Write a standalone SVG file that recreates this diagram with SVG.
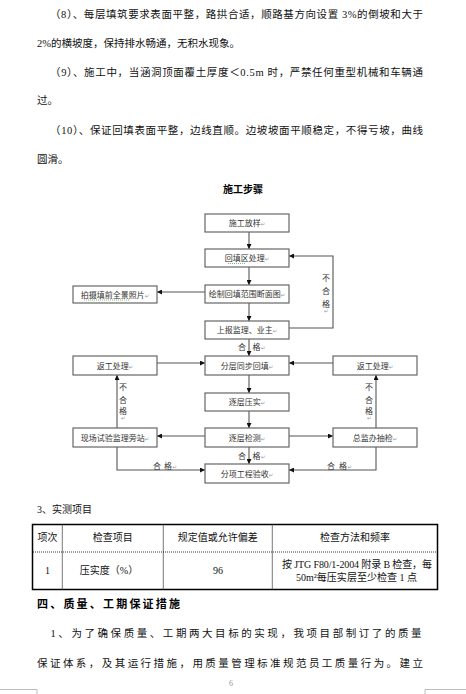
<svg xmlns="http://www.w3.org/2000/svg" width="466" height="694" viewBox="0 0 466 694">
<style>
.body{font-family:"Liberation Serif","Noto Sans CJK SC",serif;font-size:10.5px;fill:#111}
.bt{font-family:"Liberation Serif","Noto Sans CJK SC",serif;font-size:10px;fill:#111}
.bold{font-family:"Noto Sans CJK SC",sans-serif;font-weight:bold;fill:#000}
.box rect{fill:#fff;stroke:#666;stroke-width:1.2}
.box text,.lbl{font-family:"Noto Sans CJK SC","Liberation Sans",sans-serif;font-size:8px;fill:#333;text-anchor:middle}
.rm{font-family:"DejaVu Sans",sans-serif;font-size:5.5px;fill:#999}
.conn path{fill:none;stroke:#555;stroke-width:1.1}
.mid{text-anchor:middle}
</style>
<defs>
<marker id="ah" markerWidth="5" markerHeight="5" refX="5" refY="2.5" orient="auto" markerUnits="userSpaceOnUse">
<path d="M0,0 L5,2.5 L0,5 z" fill="#111"/>
</marker>
</defs>
<rect width="466" height="694" fill="#fff"/>

<g id="paragraphs">
<text class="body" x="50" y="18" textLength="373" lengthAdjust="spacing">（8）、每层填筑要求表面平整，路拱合适，顺路基方向设置 3%的倒坡和大于</text>
<text class="body" x="37" y="47">2%的横坡度，保持排水畅通，无积水现象。</text>
<text class="body" x="50" y="76" textLength="373" lengthAdjust="spacing">（9）、施工中，当涵洞顶面覆土厚度＜0.5m 时，严禁任何重型机械和车辆通</text>
<text class="body" x="37" y="104">过。</text>
<text class="body" x="50" y="134" textLength="373" lengthAdjust="spacing">（10）、保证回填表面平整，边线直顺。边坡坡面平顺稳定，不得亏坡，曲线</text>
<text class="body" x="37" y="163">圆滑。</text>
<text class="bold mid" x="243" y="193" font-size="10">施工步骤</text>
</g>

<g class="conn" id="connectors">
<path d="M249,232 V249" marker-end="url(#ah)"/>
<path d="M249,267 V285" marker-end="url(#ah)"/>
<path d="M249,303 V321" marker-end="url(#ah)"/>
<path d="M249,339 V356" marker-end="url(#ah)"/>
<path d="M249,375 V393" marker-end="url(#ah)"/>
<path d="M249,411 V428" marker-end="url(#ah)"/>
<path d="M249,447 V464" marker-end="url(#ah)"/>
<path d="M205,292 H157" marker-end="url(#ah)"/>
<path d="M289,328 H333 V256 H289" marker-end="url(#ah)"/>
<path d="M157,363 H205" marker-end="url(#ah)"/>
<path d="M333,363 H289" marker-end="url(#ah)"/>
<path d="M205,436 H157" marker-end="url(#ah)"/>
<path d="M289,436 H333" marker-end="url(#ah)"/>
<path d="M117,428 V375" marker-end="url(#ah)"/>
<path d="M376,428 V375" marker-end="url(#ah)"/>
<path d="M117,447 V470 H205" marker-end="url(#ah)"/>
<path d="M376,447 V470 H289" marker-end="url(#ah)"/>
</g>

<g id="labels">
<text class="lbl" x="326" y="281">不</text>
<text class="lbl" x="326" y="294">合</text>
<text class="lbl" x="326" y="307">格</text>
<text class="rm" x="324" y="313">↵</text>
<text class="lbl" x="242" y="350">合</text><text class="lbl" x="256.5" y="350">格</text><text class="rm" x="261" y="350">↵</text>
<text class="lbl" x="123" y="389.5">不</text>
<text class="lbl" x="123" y="402.5">合</text>
<text class="lbl" x="123" y="414">格</text>
<text class="rm" x="121" y="420">↵</text>
<text class="lbl" x="369" y="389.5">不</text>
<text class="lbl" x="369" y="402.5">合</text>
<text class="lbl" x="369" y="414">格</text>
<text class="rm" x="367" y="420">↵</text>
<text class="lbl" x="242" y="459">合</text><text class="lbl" x="256.5" y="459">格</text><text class="rm" x="261" y="459">↵</text>
<text class="lbl" x="157" y="469">合</text><text class="lbl" x="168" y="469">格</text><text class="rm" x="172.5" y="469">↵</text>
<text class="lbl" x="331" y="469">合</text><text class="lbl" x="343" y="469">格</text><text class="rm" x="347.5" y="469">↵</text>
</g>

<g class="box" id="n1"><rect x="205" y="214" width="84" height="18"/><text x="247" y="226">施工放样<tspan class="rm">↵</tspan></text></g>
<g class="box" id="n2"><rect x="205" y="249" width="84" height="18"/><text x="247" y="261">回填区处理<tspan class="rm">↵</tspan></text><path d="M228,263.5 H245" stroke="#6a6" stroke-width="0.8" stroke-dasharray="1,1"/></g>
<g class="box" id="n3"><rect x="205" y="285" width="84" height="18"/><text x="247" y="297">绘制回填范围断面图<tspan class="rm">↵</tspan></text></g>
<g class="box" id="n4"><rect x="73" y="286" width="84" height="17"/><text x="115" y="297.5">拍摄填前全景照片<tspan class="rm">↵</tspan></text><path d="M84,300 H130" stroke="#6a6" stroke-width="0.8" stroke-dasharray="1,1"/></g>
<g class="box" id="n5"><rect x="205" y="321" width="84" height="18"/><text x="247" y="333">上报监理、业主<tspan class="rm">↵</tspan></text></g>
<g class="box" id="n6"><rect x="205" y="356" width="84" height="19"/><text x="247" y="368.5">分层同步回填<tspan class="rm">↵</tspan></text></g>
<g class="box" id="n7"><rect x="73" y="356" width="84" height="19"/><text x="115" y="368.5">返工处理<tspan class="rm">↵</tspan></text></g>
<g class="box" id="n8"><rect x="333" y="356" width="84" height="19"/><text x="375" y="368.5">返工处理<tspan class="rm">↵</tspan></text></g>
<g class="box" id="n9"><rect x="205" y="393" width="84" height="18"/><text x="247" y="405">逐层压实<tspan class="rm">↵</tspan></text></g>
<g class="box" id="n10"><rect x="205" y="428" width="84" height="19"/><text x="247" y="440.5">逐层检测<tspan class="rm">↵</tspan></text></g>
<g class="box" id="n11"><rect x="73" y="428" width="84" height="19"/><text x="115" y="440.5">现场试验监理旁站<tspan class="rm">↵</tspan></text></g>
<g class="box" id="n12"><rect x="333" y="428" width="84" height="19"/><text x="375" y="440.5">总监办抽检<tspan class="rm">↵</tspan></text></g>
<g class="box" id="n13"><rect x="205" y="464" width="84" height="19"/><text x="247" y="476.5">分项工程验收<tspan class="rm">↵</tspan></text></g>

<g id="table">
<text class="bt" x="37" y="513" font-size="10.3">3、实测项目</text>
<rect x="32.5" y="524.5" width="405" height="65" fill="none" stroke="#000" stroke-width="1.5"/>
<path d="M62.3,524.5 V589.5 M163.3,524.5 V589.5 M272.3,524.5 V589.5" stroke="#555" stroke-width="0.8"/>
<path d="M33,552 H437" stroke="#000" stroke-width="0.8" stroke-dasharray="1,1"/>
<text class="bt mid" x="47.5" y="541">项次</text>
<text class="bt mid" x="112.8" y="541">检查项目</text>
<text class="bt mid" x="217.8" y="541">规定值或允许偏差</text>
<text class="bt mid" x="355" y="541">检查方法和频率</text>
<text class="bt mid" x="47.5" y="574">1</text>
<text class="bt mid" x="109" y="574">压实度（%）</text>
<text class="bt mid" x="218" y="574">96</text>
<text class="bt" x="282" y="568" textLength="150" lengthAdjust="spacing">按 JTG F80/1-2004 附录 B 检查，每</text>
<text class="bt" x="296" y="581" textLength="121" lengthAdjust="spacing">50m²每压实层至少检查 1 点</text>
</g>

<g id="section4">
<text class="bold" x="37" y="608" font-size="11" textLength="143" lengthAdjust="spacing">四、质量、工期保证措施</text>
<text class="body" x="50.5" y="637" textLength="371" lengthAdjust="spacing">1、为了确保质量、工期两大目标的实现，我项目部制订了的质量</text>
<text class="body" x="37" y="666.5" textLength="386" lengthAdjust="spacing">保证体系，及其运行措施，用质量管理标准规范员工质量行为。建立</text>
<text x="231" y="686" font-family="Liberation Serif,serif" font-size="8" fill="#999" text-anchor="middle">6</text>
<path d="M0,689.5 H37 V694 M466,689.5 H425 V694" fill="none" stroke="#aaa" stroke-width="0.8"/>
</g>
</svg>
